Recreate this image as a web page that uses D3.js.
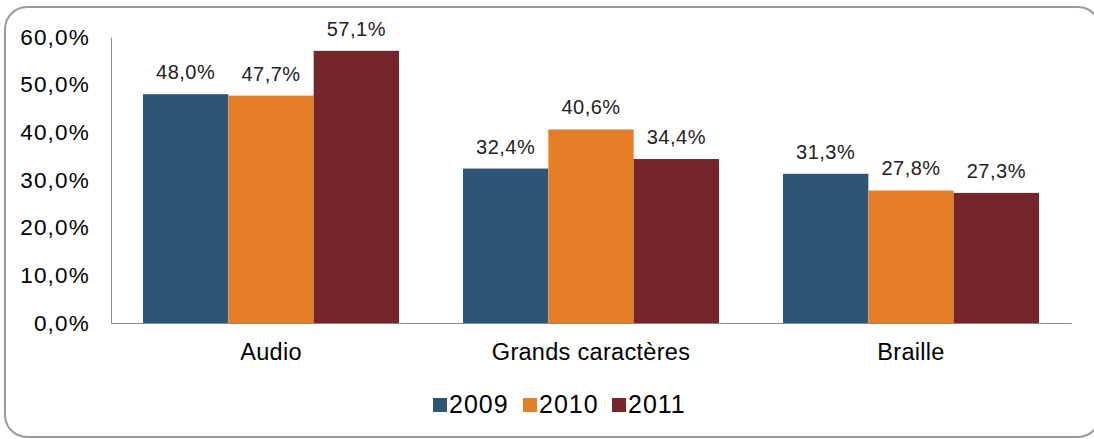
<!DOCTYPE html>
<html><head><meta charset="utf-8">
<script src="https://cdn.jsdelivr.net/npm/d3@7"></script>
<style>body{margin:0;background:#fff;} text{font-family:"Liberation Sans",Arial,sans-serif;}</style>
</head><body>
<svg id="c" width="1094" height="439"></svg>
<script>
const categories = ["Audio", "Grands caractères", "Braille"];
const years = ["2009", "2010", "2011"];
const v2009 = [48.0, 32.4, 31.3];
const v2010 = [47.7, 40.6, 27.8];
const v2011 = [57.1, 34.4, 27.3];
const colors = ["#2E5476", "#E67E27", "#74262C"];
const yTicks = [0, 10, 20, 30, 40, 50, 60];

const series = [v2009, v2010, v2011];
const svg = d3.select("#c");
const fmt = v => d3.format(".1f")(v).replace(".", ",") + "%";
const FF = "Liberation Sans, Arial, sans-serif";

// frame
svg.append("rect").attr("x", 5).attr("y", 7).attr("width", 1095).attr("height", 430)
  .attr("rx", 22).attr("fill", "#fff").attr("stroke", "#9a9a9a").attr("stroke-width", 2);

const x0 = d3.scaleBand().domain(categories).range([111, 1071]).paddingInner(0.2).paddingOuter(0.1);
const x1 = d3.scaleBand().domain(years).range([0, x0.bandwidth()]);
const y = d3.scaleLinear().domain([0, 60]).range([323, 37]);

// y axis
const ya = svg.append("g").attr("transform", "translate(111,0)")
  .call(d3.axisLeft(y).tickValues(yTicks).tickSize(0).tickPadding(21).tickFormat(fmt));
ya.select(".domain").attr("stroke", "#8c8c8c");
ya.selectAll("text").attr("font-size", 22.5).attr("letter-spacing", 1.2).attr("fill", "#000").attr("font-family", FF);

// bars
const g = svg.append("g");
categories.forEach((c, ci) => {
  years.forEach((yr, si) => {
    const v = series[si][ci];
    g.append("rect")
      .attr("x", x0(c) + x1(yr)).attr("y", y(v))
      .attr("width", x1.bandwidth()).attr("height", y(0) - y(v))
      .attr("fill", colors[si]);
    g.append("text")
      .attr("x", x0(c) + x1(yr) + x1.bandwidth() / 2).attr("y", y(v) - 15)
      .attr("text-anchor", "middle").attr("font-size", 20).attr("letter-spacing", 0.5).attr("fill", "#222")
      .text(fmt(v));
  });
});

// x axis
const xa = svg.append("g").attr("transform", "translate(0,323)")
  .call(d3.axisBottom(x0).tickSize(0).tickPadding(20).tickSizeOuter(0));
xa.select(".domain").attr("stroke", "#8c8c8c");
xa.selectAll("text").attr("font-size", 23.5).attr("letter-spacing", 0.3).attr("fill", "#000").attr("font-family", FF);

// legend
const legX = [433, 523, 612];
years.forEach((yr, i) => {
  svg.append("rect").attr("x", legX[i]).attr("y", 398).attr("width", 14).attr("height", 14).attr("fill", colors[i]);
  svg.append("text").attr("x", legX[i] + 16).attr("y", 413).attr("font-size", 25).attr("letter-spacing", 1).attr("fill", "#000").text(yr);
});
</script>
</body></html>
